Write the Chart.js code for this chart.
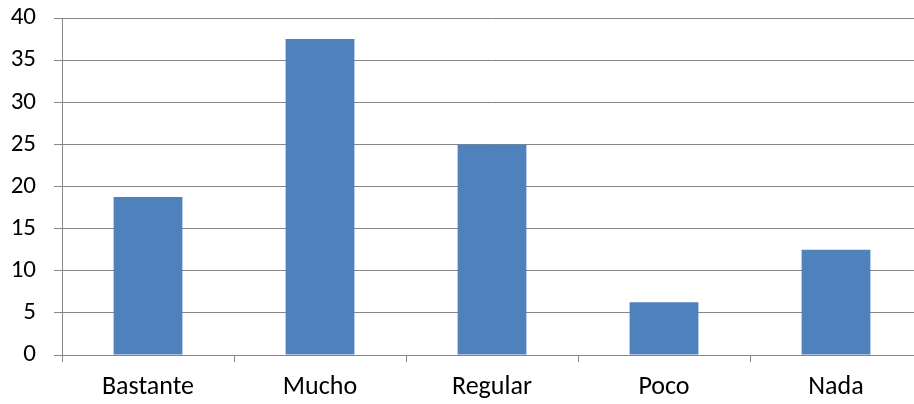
<!DOCTYPE html>
<html>
<head>
<meta charset="utf-8">
<script src="https://cdn.jsdelivr.net/npm/chart.js@4"></script>
<style>
  html, body { margin: 0; padding: 0; background: #fff; overflow: hidden; }
  /* el área de trazado sigue un poco más allá del borde derecho, como en el original */
  #wrap { width: 922px; height: 404px; }
</style>
</head>
<body>
<div id="wrap"><canvas id="chart"></canvas></div>
<script>
    // datos
    const categorias = ['Bastante', 'Mucho', 'Regular', 'Poco', 'Nada'];
    const valores = [18.75, 37.5, 25, 6.25, 12.5];
    const ticksY = [0, 5, 10, 15, 20, 25, 30, 35, 40];

    const azul = '#4f81bd';
    const gris = '#868686';
    const fuente = 'Carlito, Lato, "Open Sans", sans-serif';

    new Chart(document.getElementById('chart'), {
        type: 'bar',
        data: {
            labels: categorias,
            datasets: [{
                data: valores,
                backgroundColor: azul,
                barPercentage: 0.4,
                categoryPercentage: 1
            }]
        },
        options: {
            responsive: true,
            maintainAspectRatio: false,
            animation: false,
            layout: { padding: { top: 18, right: 0, left: 0, bottom: 0 } },
            plugins: {
                legend: { display: false },
                tooltip: { enabled: false }
            },
            scales: {
                x: {
                    offset: true,
                    grid: {
                        offset: true,
                        drawOnChartArea: false,
                        drawTicks: true,
                        tickLength: 7,
                        color: gris,
                        lineWidth: 1
                    },
                    border: { color: gris, width: 1 },
                    ticks: {
                        color: '#000',
                        font: { family: fuente, size: 26 },
                        padding: 10
                    },
                    afterFit: (s) => { s.height = 49; s.paddingLeft = 0; s.paddingRight = 0; }
                },
                y: {
                    min: 0,
                    max: 40,
                    afterBuildTicks: (s) => { s.ticks = ticksY.map(v => ({ value: v })); },
                    grid: {
                        color: gris,
                        lineWidth: 1,
                        drawTicks: true,
                        tickLength: 8
                    },
                    border: { color: gris, width: 1 },
                    ticks: {
                        color: '#000',
                        font: { family: fuente, size: 25 },
                        padding: 18
                    },
                    afterFit: (s) => { s.width = 62; s.paddingTop = 0; s.paddingBottom = 0; }
                }
            }
        }
    });
</script>
</body>
</html>
